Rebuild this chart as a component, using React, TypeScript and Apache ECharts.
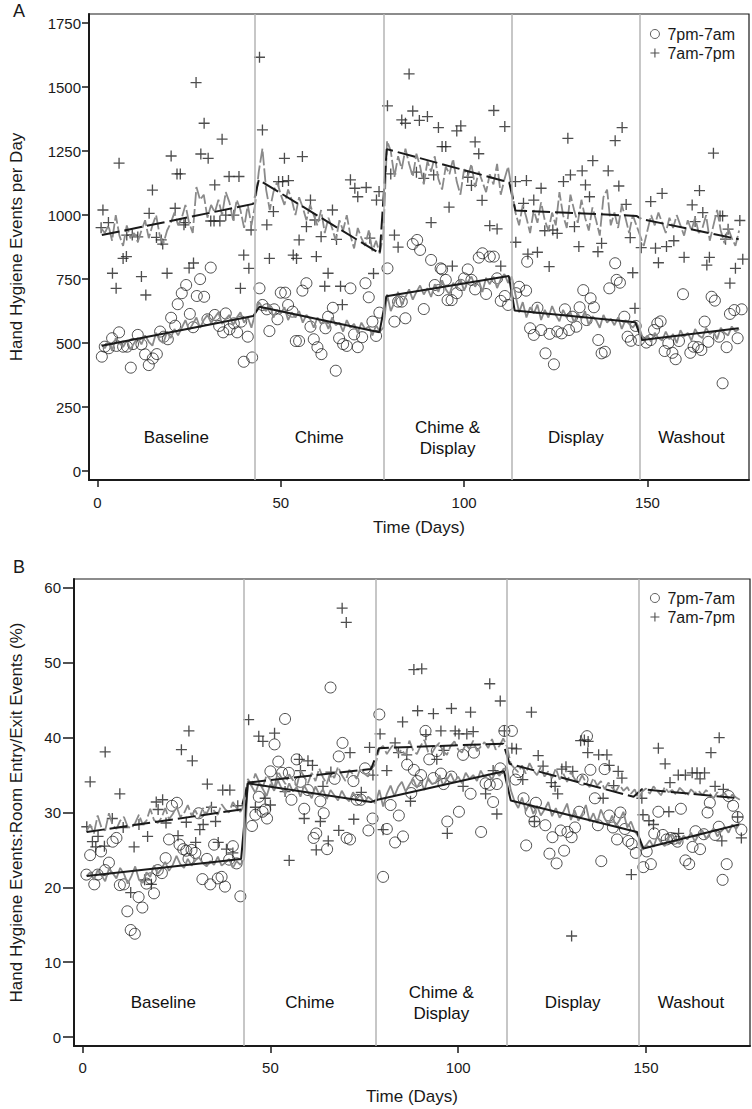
import React, { useEffect, useRef } from "react";
import * as echarts from "echarts";

const FONT = "'Liberation Sans', Arial, Helvetica, sans-serif";
const INK = "#1a1a1a";
const GRAY = "#8a8a8a";
const PHASE_LINE = "#b4b4b4";

const X_TICKS = [0, 50, 100, 150];
const Y_TICKS_A = [0, 250, 500, 750, 1000, 1250, 1500, 1750];
const Y_TICKS_B = [0, 10, 20, 30, 40, 50, 60];
const PHASE_BOUNDS = [43, 78, 113, 148];
const PHASE_LABELS = ["Baseline", "Chime", "Chime &\nDisplay", "Display", "Washout"];
const PHASE_CENTERS = [21.5, 60.5, 95.5, 130.5, 162];
const PHASE_LABEL_Y_A = 130;
const PHASE_LABEL_Y_B = 4.55;
const NIGHT = "7pm-7am";
const DAY = "7am-7pm";

// Panel A observed points [day, events]
const aNightPts = [
  [1.2,447],[2,486],[3.1,480],[4,519],[5.9,542],[5.2,489],[7,486],[8.1,486],[9.1,404],[9.7,496],[11,532],[12,495],[13,456],[14,414],[15.1,440],[16.2,457],[17.1,545],[18.1,525],[19.2,515],[20.1,599],[21.2,568],[21.9,652],[23,695],[24.2,727],[25.2,614],[26.1,562],[27.1,684],[28,750],[29.1,681],[30,593],[30.9,795],[32,610],[33.2,567],[34.3,542],[35,616],[36,554],[37.2,577],[38.1,542],[39.2,584],[39.9,427],[41,525],[42.2,444],
  [44.2,714],[45,649],[46.2,632],[46.9,547],[48.2,632],[49.1,593],[50,697],[51.2,697],[52,649],[53.2,623],[54.1,508],[55,508],[55.9,705],[57,734],[58.1,564],[59,515],[60,484],[61.1,457],[62.2,558],[62.9,603],[64.2,638],[65,392],[65.9,519],[67,496],[68,489],[69,714],[70,534],[71,484],[72.2,523],[73.1,734],[74,679],[75,584],[76,528],[76.9,619],
  [79.1,792],[81,584],[84,597],[82,662],[83,662],[86,887],[87.2,903],[88,864],[89,633],[91,825],[92,727],[94,788],[95,747],[93,707],[95.5,668],[96.6,668],[98,695],[99.1,727],[100,753],[102,747],[101,788],[103,710],[104,834],[105,851],[106,692],[107,838],[108.1,838],[109,753],[110,665],[111.1,684],[112,649],[93.6,792],
  [114.2,695],[115,720],[116.9,705],[117.2,818],[118,558],[119,532],[120,638],[121,551],[123.3,536],[122.2,460],[124.5,417],[125.4,545],[126.6,538],[127.5,632],[128.6,551],[129.5,603],[130.6,564],[131.5,640],[132.5,707],[133.4,590],[134.5,675],[135.4,640],[136.6,512],[137.5,460],[138.4,466],[139.6,714],[141.2,812],[141.6,747],[142.5,736],[143.7,603],[144.6,525],[145.5,509],[146.8,567],[147.7,512],
  [149.7,502],[150.9,512],[151.8,551],[152.7,577],[153.6,585],[155.7,499],[154.7,469],[156.8,462],[157.7,437],[158.6,508],[159.7,691],[161.7,462],[162.6,486],[163.8,484],[164.7,473],[165.6,584],[166.6,505],[167.5,681],[168.4,666],[169.5,525],[170.5,343],[171.6,484],[172.5,614],[173.7,629],[175.7,632],[174.6,519]
];
const aDayPts = [
  [1.5,1020],[1,951],[3,971],[5.9,1203],[4.1,773],[5.1,714],[7,831],[7.9,838],[8,922],[9.5,922],[11,915],[12,760],[13.2,688],[14.1,1007],[15,1098],[16.1,913],[17.4,903],[17.8,887],[19,773],[20.1,1231],[21.7,1161],[22.6,1161],[21.2,1027],[23.6,962],[24,971],[25,793],[26.2,813],[26.9,1518],[28.2,1239],[30.2,1222],[29.1,1359],[32,1118],[30.9,977],[31.8,977],[34,1297],[33.4,977],[35,1000],[37.2,1000],[35.9,1151],[38.6,1151],[39.9,844],[41.3,792],[41.9,942],[39,714],
  [44.2,1617],[45,1333],[46.2,962],[46.9,831],[48,1014],[51,1222],[55.9,1229],[49.4,1131],[50.5,1131],[52.1,1135],[53.4,844],[54.3,831],[55,903],[57,955],[58.1,1059],[59.7,838],[59.3,981],[61,916],[62.9,773],[62,722],[66.3,722],[66.8,650],[64.1,1020],[65.2,905],[69,1138],[70.2,1105],[71,1072],[73.3,1108],[74.3,910],[75.3,772],[76.1,1059],[76.8,1092],
  [79.1,1427],[85,1552],[80,1161],[81,922],[82,875],[83,1372],[84,1359],[86,1407],[87.8,1370],[90,1385],[87,1168],[89,1144],[91.7,1157],[93,1342],[94,1268],[95,1268],[91,971],[95.9,1031],[98,1329],[99.1,1349],[96.8,801],[101,1148],[102,1116],[103,1286],[104,1240],[108.1,1409],[111.1,1346],[104.9,1058],[107,959],[109,946],[110,801],
  [114,1131],[117,1135],[121,1105],[119,1059],[116.2,1046],[114.1,894],[117.4,848],[120,855],[123.2,799],[122,939],[124.2,942],[125.4,929],[127.1,1131],[129,1157],[128.3,1300],[130.1,955],[131.3,877],[132.2,1173],[133.1,1118],[134.2,1072],[135.1,1213],[139.3,1173],[136.5,857],[137.5,890],[141.2,1291],[143.1,1342],[142.2,1114],[144.2,1042],[145.3,912],[146,775],[148.3,873],[146.6,636],
  [150.9,1053],[154,1085],[152.2,871],[155.2,877],[157.2,900],[153,814],[160,835],[164.2,1096],[162.2,1040],[165.1,1010],[163,975],[166.9,835],[166.2,805],[168,1242],[169.8,997],[170.5,997],[172,945],[175.2,979],[171.3,906],[174,792],[176,828],[172.5,734]
];

// Panel A fitted daily values, days 1..175
const aNightFit = [
  495,480,505,470,520,500,485,510,475,500,520,495,530,505,490,540,510,500,545,520,555,530,560,590,550,575,600,560,590,610,580,600,620,575,595,610,570,600,620,580,600,560,615,
  660,640,625,650,600,630,615,640,590,620,600,625,580,610,595,560,600,575,590,555,600,570,580,545,590,560,575,540,580,555,565,530,570,545,560,
  690,625,660,700,650,680,710,670,700,725,690,715,680,730,700,745,710,690,735,720,750,705,740,760,720,745,700,755,730,760,715,750,770,735,760,
  690,620,660,600,640,615,650,590,630,600,645,610,585,630,600,620,580,615,595,625,570,605,590,560,610,580,595,570,600,555,590,575,560,580,550,
  510,530,505,540,520,510,545,515,535,500,550,525,540,510,555,530,520,560,535,545,515,560,540,530,565,545,555
];
const aDayFit = [
  950,930,960,900,1000,920,880,960,910,930,895,940,980,910,960,1000,920,890,940,970,1010,960,990,1040,970,930,1110,1060,1080,990,1040,1010,1060,1000,1090,1050,980,1060,1020,950,1040,960,1040,
  1170,1260,1100,1020,1090,1130,1080,1040,1100,1060,1000,1070,1030,980,1040,1000,960,1020,930,990,950,900,980,940,1000,920,870,950,910,880,940,860,900,850,930,
  1290,1250,1150,1230,1180,1260,1200,1150,1240,1190,1120,1210,1170,1230,1140,1100,1190,1160,1220,1130,1080,1180,1150,1200,1110,1170,1130,1090,1160,1120,1200,1080,1140,1190,1100,
  1010,960,1040,990,930,1020,970,1050,980,940,1010,960,1090,1000,950,1080,1020,970,1060,990,940,1030,980,920,1070,1100,960,1010,950,1040,990,930,1000,960,920,
  880,940,1000,960,1010,970,930,990,950,1000,960,920,980,940,990,930,950,1000,900,960,1020,940,890,950,910,880,940
];
// Panel A segmented regression [day, value]
const aNightTrend = [[1.2,490],[42.5,606],[44.2,642],[76.9,542],[78.8,683],[112.2,762],[113.8,627],[146.7,581],[148.5,512],[174.9,558]];
const aDayTrend = [[1.2,922],[42.5,1044],[44,1138],[77,850],[78.9,1258],[112.3,1128],[114,1018],[147,997],[148.3,985],[174.9,906]];

// Panel B observed points [day, percent]
const bNightPts = [
  [1,21.7],[2,24.3],[3.1,20.4],[4,21.7],[4.9,24.8],[6,22.3],[7,23.3],[8,26.1],[9,26.6],[9.9,20.3],[11,20.4],[11.9,16.8],[12.8,14.3],[13.9,13.8],[14.9,18.7],[15.9,17.3],[17,20.5],[18.1,21.2],[19,19.2],[20,22.3],[21.1,21.9],[22.1,23.9],[23,26.4],[23.8,30.9],[25.1,31.3],[25.8,25.7],[26.8,25.1],[27.6,24.9],[28.2,23.8],[29,25.0],[30,24.6],[30.9,29.9],[31.9,21.1],[33.1,23.8],[34,20.4],[35,25.7],[36,21.2],[37,21.4],[37.9,20.1],[39,23.7],[40,25.5],[41,23.2],[42,18.8],
  [45.1,28.2],[46,29.7],[46.9,32.1],[47.9,30.1],[48.6,30.4],[49.1,29.2],[50,35.5],[51.1,39.1],[52.1,36.8],[53.1,35.3],[53.9,42.5],[54.9,35.3],[55.6,31.7],[57,37.1],[58,34.1],[59,30.5],[60,33.0],[61.5,26.6],[62.2,27.2],[63.3,31.5],[64.2,29.9],[65.1,25.1],[66,46.7],[67.1,34.5],[68.2,37.5],[69.2,39.3],[70.3,26.6],[71.2,26.4],[72.1,34.2],[73,31.7],[74.1,31.7],[75.2,35.9],[76.1,27.6],[77.2,29.2],
  [79,43.1],[80,21.4],[81,27.8],[82,31.0],[83.2,26.0],[84.2,29.6],[85.3,26.8],[86.4,36.4],[87.5,32.6],[88.2,35.7],[89.1,34.2],[90.1,35.0],[91.3,40.9],[92.3,37.1],[93.4,34.6],[94.3,38.2],[95.4,35.2],[96.1,33.8],[97.1,28.8],[98.2,34.8],[100.2,30.1],[101.3,37.7],[103.3,32.5],[104.2,38.0],[106.1,27.4],[107.3,33.9],[108.4,33.7],[109.3,31.4],[110.3,33.8],[111.2,35.9],[112.3,40.9],
  [114.3,40.9],[115.3,34.4],[116,35.4],[117.4,31.9],[118.1,25.6],[119.3,30.1],[120.3,28.8],[120.7,31.3],[123.2,28.3],[124.3,24.5],[125.1,26.7],[126.2,23.2],[127.3,27.6],[128.2,24.9],[129.1,27.4],[130.2,26.7],[131.1,28.0],[132.2,30.1],[133.1,34.4],[134.3,40.2],[135.2,35.7],[136.4,31.9],[137.2,28.3],[138.1,23.5],[139,35.8],[140.2,29.6],[141.2,28.0],[142.3,26.4],[143.2,30.0],[144.4,27.8],[145.3,26.2],[146.2,25.8],[147.3,24.6],
  [149.3,22.7],[150.2,24.8],[151.3,23.1],[152.2,27.2],[153.3,30.1],[154.5,27.0],[155.5,26.4],[156.6,26.6],[157.5,26.5],[158.4,26.1],[159.3,30.5],[160.5,23.6],[161.5,23.1],[162.4,25.4],[163.2,27.5],[164.4,25.1],[165.4,27.1],[166.4,30.0],[167,31.3],[168.4,27.0],[169.4,28.1],[170.4,21.0],[171.5,23.1],[172,32.2],[173.2,30.9],[174.4,29.4],[175.4,27.7]
];
const bDayPts = [
  [1.1,28.1],[2,34.1],[2.6,26.1],[3.5,25.4],[4.1,26.8],[5.8,25.5],[6,38.1],[7.9,29.2],[9.9,32.5],[10.8,28.0],[12.8,19.3],[13.7,25.4],[15,28.4],[16.5,21.0],[17.3,26.8],[18.3,20.4],[19.6,31.4],[20.1,30.4],[21.3,31.7],[22.2,28.6],[25.4,26.9],[26.3,38.4],[27.6,28.7],[28.3,40.9],[29.2,36.9],[30.1,26.0],[31.2,27.7],[32.1,28.4],[33.2,33.8],[34.3,30.7],[35.4,28.8],[36.1,26.0],[37.3,33.0],[39.2,33.0],[38.3,25.1],[40,24.6],[41.3,30.9],
  [44.2,42.4],[46.9,40.2],[48,39.5],[51.1,40.6],[48.6,31.9],[46,30.7],[50,31.0],[53.9,32.8],[55,23.6],[57.7,37.1],[59,29.2],[58,35.6],[60,36.9],[61.2,36.3],[63.3,28.8],[62.2,25.0],[65.4,26.2],[66.1,35.4],[64,33.5],[68.2,27.6],[69.1,57.3],[70.2,55.4],[71.2,38.0],[72.2,29.1],[74.2,32.7],[76.4,38.7],[77.3,35.0],
  [79.2,40.5],[81,35.6],[80,27.7],[83.2,39.3],[85.2,42.1],[84.1,38.0],[86.3,37.7],[87.3,31.5],[88.2,49.1],[90.3,49.2],[89.2,43.6],[91.4,40.4],[93.4,43.2],[94.3,37.1],[95.4,40.9],[96.2,38.3],[98.2,43.9],[99.2,40.9],[100.2,40.5],[101.3,33.5],[102.3,40.5],[104,40.8],[103.3,43.4],[97.1,27.2],[107.3,32.5],[108.4,47.2],[109.3,35.6],[110.3,29.8],[111.2,44.9],[112.3,40.9],
  [114.3,38.6],[115.5,38.5],[117.2,34.4],[119.5,43.4],[121.3,37.6],[122.6,36.2],[124.8,34.0],[125.8,33.5],[126.5,32.5],[127.6,35.8],[128.7,36.1],[130.5,35.5],[132.6,39.6],[133.6,39.7],[134.6,39.5],[134.5,38.0],[137.4,37.7],[139.6,37.7],[140.2,36.3],[142.6,35.5],[143.6,34.6],[141.4,33.6],[138.6,31.9],[130.2,13.5],[146.1,21.7],[120.3,28.8],
  [149.2,29.7],[150.8,28.9],[152,28.4],[156.1,30.1],[158.7,27.2],[170.2,26.2],[175.4,26.6],[174.4,29.4],[153.3,38.6],[155.1,36.5],[156.4,34.0],[158.6,35.0],[160.5,35.0],[162.3,35.3],[163.6,35.3],[165.6,35.3],[164.4,34.5],[167.3,38.0],[169.5,40.0],[168.4,33.5],[170.6,33.1],[148.9,31.9]
];

// Panel B fitted daily values, days 1..175
const bNightFit = [
  21.5,22.0,21.0,22.3,21.6,20.8,22.5,21.9,21.2,22.6,21.8,20.5,21.5,22.8,21.0,20.6,22.0,21.4,22.9,21.8,22.5,23.4,22.2,23.0,24.2,23.1,22.6,23.8,22.9,23.6,24.0,23.2,22.8,23.5,23.0,24.1,22.9,23.3,23.8,22.6,23.5,23.0,23.8,
  34.2,33.5,32.6,34.0,33.1,32.2,33.8,32.9,34.3,33.2,32.5,33.9,32.8,33.4,32.1,33.6,32.7,31.9,33.5,32.4,33.1,31.8,33.0,32.3,31.6,32.9,32.0,31.5,32.7,31.8,32.4,31.3,32.1,31.7,31.2,
  33.0,30.8,32.5,33.6,32.2,33.4,34.1,32.8,33.7,34.5,33.3,34.2,33.0,34.6,33.8,34.0,35.0,33.6,34.4,35.2,34.1,34.8,33.9,35.3,34.5,35.0,34.2,35.6,34.7,35.1,34.4,35.5,34.9,35.8,36.0,
  33.0,31.5,30.6,32.0,30.2,31.3,29.8,30.9,29.6,30.4,31.4,29.5,30.6,29.3,30.1,31.2,29.0,30.3,28.9,29.8,31.0,28.8,29.9,28.6,30.4,29.2,28.4,29.6,28.2,29.0,30.1,28.0,28.8,27.5,26.8,
  25.0,25.6,26.3,25.4,26.8,26.0,25.5,26.6,27.1,26.2,25.8,26.9,26.4,27.3,26.1,27.0,27.6,26.5,27.2,27.9,26.8,27.5,28.1,27.3,28.4,27.8,28.6
];
const bDayFit = [
  27.5,28.4,27.2,29.6,28.0,27.6,29.9,28.3,27.8,28.9,29.4,28.1,27.9,28.6,29.7,28.4,28.9,30.5,29.0,28.6,29.3,30.6,29.1,29.8,30.8,29.4,29.9,31.0,29.6,30.3,29.2,30.6,29.8,30.9,30.2,29.7,31.1,30.4,30.0,31.4,30.6,30.1,31.0,
  34.5,33.6,35.2,34.1,33.4,35.0,34.4,33.2,35.5,34.6,33.8,35.1,34.3,33.5,35.6,34.8,33.9,35.3,34.2,35.9,34.7,33.8,35.4,34.6,36.1,35.0,34.2,35.7,35.1,34.5,36.0,35.2,34.8,35.9,36.5,
  38.5,38.9,37.8,38.6,39.2,37.9,38.4,37.6,39.6,38.3,37.8,38.9,39.7,38.1,37.9,38.8,39.3,38.2,37.7,38.9,39.5,38.4,38.0,39.1,38.5,39.6,38.2,38.8,39.4,38.6,39.8,38.4,38.9,39.9,38.8,
  36.5,35.9,35.4,36.3,35.2,36.6,35.6,35.0,36.1,34.8,35.5,34.6,35.9,34.4,35.2,34.1,35.4,34.5,33.9,35.0,34.0,33.4,34.6,33.6,34.2,33.1,34.0,33.3,32.8,33.7,32.9,33.4,32.5,33.1,31.8,
  32.8,33.2,32.5,33.5,32.9,32.3,33.4,32.7,33.0,32.4,33.3,32.8,32.2,33.1,32.6,32.9,32.3,33.0,32.5,31.9,32.7,32.2,32.6,31.8,32.4,32.0,31.7
];
const bNightTrend = [[1.1,21.5],[42.2,23.8],[44,33.9],[76.8,31.4],[78.5,31.7],[112.2,35.5],[114,31.6],[147.6,27.4],[149.3,25.2],[174.8,28.4]];
const bDayTrend = [[1.1,27.4],[42.2,30.4],[44,34.0],[76.8,35.8],[78.9,38.6],[112,39.2],[113.7,36.5],[146.7,32.1],[148.9,33.1],[174.8,31.9]];

const PLUS = "path://M4.4,0H5.6V4.4H10V5.6H5.6V10H4.4V5.6H0V4.4H4.4Z";

const byDay = (vals: number[]) => vals.map((v, i) => [i + 1, v]);
const plainNum = (v: number) => String(v);

function panelSeries(idx: number, nightPts: number[][], dayPts: number[][], nightFit: number[], dayFit: number[], nightTrend: number[][], dayTrend: number[][], labelY: number) {
  const ax = { xAxisIndex: idx, yAxisIndex: idx };
  return [
    {
      ...ax, name: NIGHT, type: "scatter", data: nightPts, symbol: "circle", symbolSize: 11, z: 2,
      itemStyle: { color: "rgba(255,255,255,0)", borderColor: "#222", borderWidth: 1 },
    },
    {
      ...ax, name: DAY, type: "scatter", data: dayPts, symbol: PLUS, symbolSize: 11, z: 2,
      itemStyle: { color: "#222" },
    },
    {
      ...ax, name: "fitNight" + idx, type: "line", data: byDay(nightFit), symbol: "none", z: 3,
      lineStyle: { color: GRAY, width: 1.8 },
    },
    {
      ...ax, name: "fitDay" + idx, type: "line", data: byDay(dayFit), symbol: "none", z: 3,
      lineStyle: { color: GRAY, width: 1.8, type: [14, 3] },
    },
    {
      ...ax, name: "trendNight" + idx, type: "line", data: nightTrend, symbol: "none", z: 4,
      lineStyle: { color: INK, width: 2 },
    },
    {
      ...ax, name: "trendDay" + idx, type: "line", data: dayTrend, symbol: "none", z: 4,
      lineStyle: { color: INK, width: 2, type: [18, 5] },
    },
    {
      ...ax, name: "phases" + idx, type: "scatter", symbolSize: 1, silent: true, z: 5,
      itemStyle: { color: "rgba(0,0,0,0)" },
      data: PHASE_LABELS.map((t, i) => ({ name: t, value: [PHASE_CENTERS[i], labelY] })),
      label: {
        show: true, position: "inside", formatter: "{b}", fontSize: 17, color: "#111111",
        fontFamily: FONT, lineHeight: 21, align: "center", verticalAlign: "middle",
        textBorderWidth: 0, textBorderColor: "rgba(0,0,0,0)", opacity: 1,
      },
      markLine: {
        silent: true, symbol: ["none", "none"], label: { show: false },
        lineStyle: { color: PHASE_LINE, width: 1.5, type: "solid" },
        data: PHASE_BOUNDS.map((b) => ({ xAxis: b })),
      },
    },
  ];
}

function xAxisDef(grid: number, nameGap: number, margin: number) {
  return {
    gridIndex: grid, type: "value", min: -2.3, max: 177.7,
    name: "Time (Days)", nameLocation: "middle", nameGap,
    nameTextStyle: { fontSize: 17, color: INK, fontFamily: FONT },
    axisLine: { show: true, onZero: false, lineStyle: { color: INK, width: 2 } },
    axisTick: { show: true, length: 7, customValues: X_TICKS, lineStyle: { color: INK, width: 1.5 } },
    axisLabel: { customValues: X_TICKS, margin, fontSize: 15, color: INK, fontFamily: FONT, formatter: plainNum },
    splitLine: { show: false },
  };
}

function yAxisDef(grid: number, min: number, max: number, ticks: number[], name: string, nameGap: number, margin: number, tickLen: number) {
  return {
    gridIndex: grid, type: "value", min, max, name, nameLocation: "middle", nameGap,
    nameTextStyle: { fontSize: 17, color: INK, fontFamily: FONT },
    axisLine: { show: true, onZero: false, lineStyle: { color: INK, width: 2 } },
    axisTick: { show: true, length: tickLen, customValues: ticks, lineStyle: { color: INK, width: 1.5 } },
    axisLabel: { customValues: ticks, margin, fontSize: 15, color: INK, fontFamily: FONT, formatter: plainNum },
    splitLine: { show: false },
  };
}

function legendDef(top: number) {
  return {
    orient: "vertical", right: 12, top, itemWidth: 9, itemHeight: 9, itemGap: 3,
    selectedMode: false,
    textStyle: { fontSize: 16, color: INK, fontFamily: FONT, padding: [0, 0, 0, 3] },
    data: [
      { name: NIGHT, itemStyle: { color: "rgba(255,255,255,0)", borderColor: "#222", borderWidth: 0.9 } },
      { name: DAY },
    ],
  };
}

export default function App() {
  const ref = useRef<HTMLDivElement>(null);
  useEffect(() => {
    if (!ref.current) return;
    const chart = echarts.init(ref.current, undefined, { renderer: "svg" });
    chart.setOption({
      animation: false,
      backgroundColor: "#ffffff",
      textStyle: { fontFamily: FONT },
      grid: [
        { left: 84, top: 14, width: 665, height: 466, show: true, borderColor: INK, borderWidth: 1.2, backgroundColor: "rgba(0,0,0,0)" },
        { left: 67, top: 579, width: 683, height: 467, show: true, borderColor: INK, borderWidth: 1.2, backgroundColor: "rgba(0,0,0,0)" },
      ],
      xAxis: [xAxisDef(0, 39, 15), xAxisDef(1, 42, 14)],
      yAxis: [
        yAxisDef(0, -35, 1786, Y_TICKS_A, "Hand Hygiene Events per Day", 64, 8, 7),
        yAxisDef(1, -1.2, 61.2, Y_TICKS_B, "Hand Hygiene Events:Room Entry/Exit Events (%)", 49, 13, 11),
      ],
      legend: [legendDef(21), legendDef(585)],
      graphic: [
        { type: "text", x: 13, y: 2, style: { text: "A", fontSize: 18, fontFamily: FONT, fill: INK } },
        { type: "text", x: 13, y: 558, style: { text: "B", fontSize: 18, fontFamily: FONT, fill: INK } },
      ],
      series: [
        ...panelSeries(0, aNightPts, aDayPts, aNightFit, aDayFit, aNightTrend, aDayTrend, PHASE_LABEL_Y_A),
        ...panelSeries(1, bNightPts, bDayPts, bNightFit, bDayFit, bNightTrend, bDayTrend, PHASE_LABEL_Y_B),
      ],
    });
    return () => chart.dispose();
  }, []);
  return <div ref={ref} style={{ position: "absolute", left: 0, top: 0, width: 752, height: 1109 }} />;
}
